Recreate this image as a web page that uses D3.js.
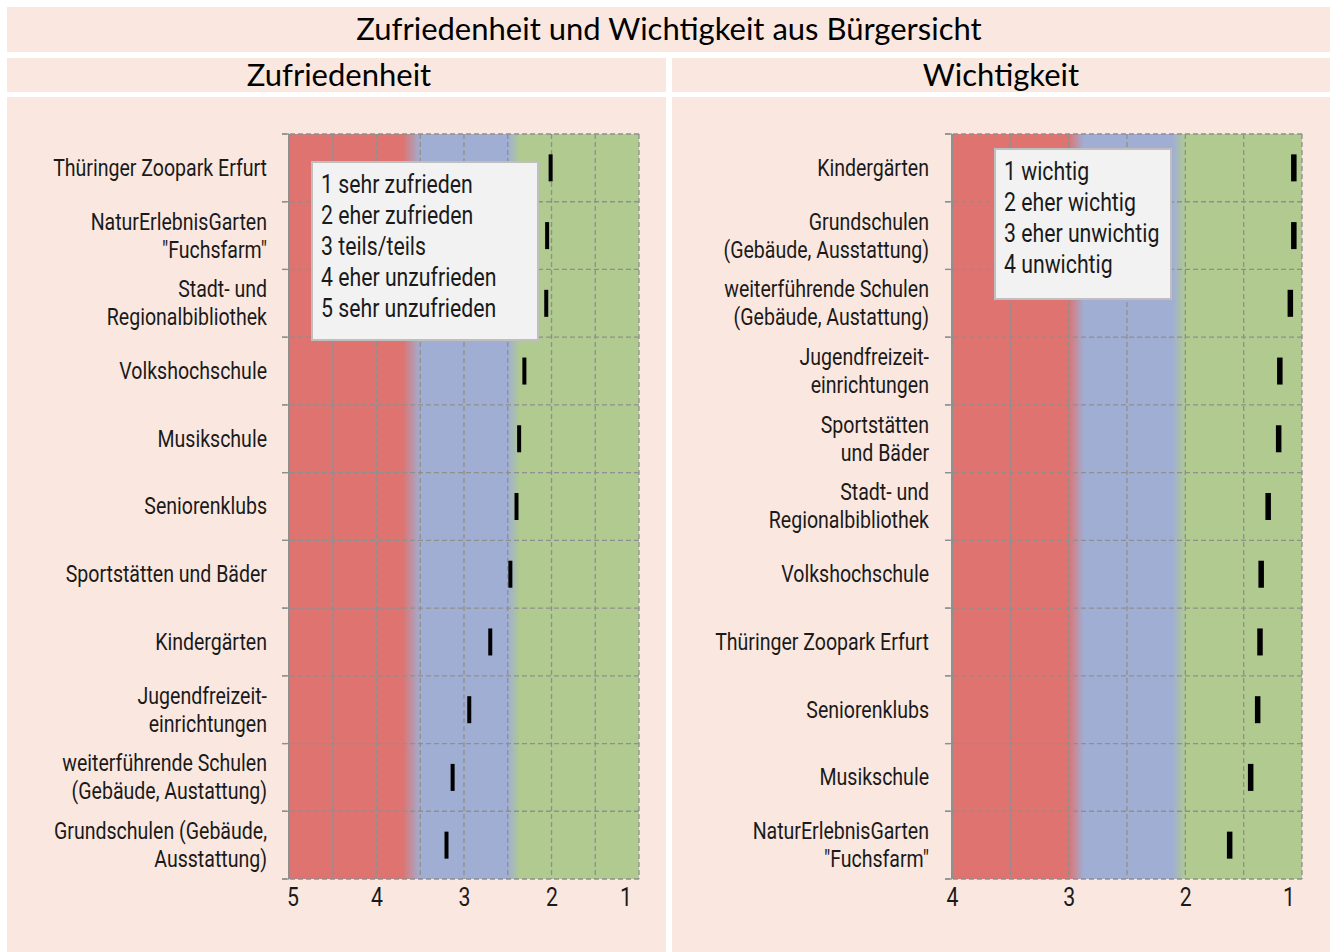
<!DOCTYPE html>
<html>
<head>
<meta charset="utf-8">
<script src="https://cdn.jsdelivr.net/npm/d3@7"></script>
<style>
  html, body { margin: 0; padding: 0; background: #ffffff; }
  svg { display: block; }
  .lbl { font-family: "Roboto", "Noto Sans", "DejaVu Sans", sans-serif; fill: #1a1a1a; }
  .ttl { font-family: "Lato", "Open Sans", sans-serif; fill: #000; }
</style>
</head>
<body>
<svg id="chart" width="1336" height="952"></svg>
<script>
// ---------------- data ----------------
const mainTitle = "Zufriedenheit und Wichtigkeit aus Bürgersicht";
const leftTitle = "Zufriedenheit";
const rightTitle = "Wichtigkeit";

const leftCategories = [
  "Thüringer Zoopark Erfurt",
  "NaturErlebnisGarten\n\"Fuchsfarm\"",
  "Stadt- und\nRegionalbibliothek",
  "Volkshochschule",
  "Musikschule",
  "Seniorenklubs",
  "Sportstätten und Bäder",
  "Kindergärten",
  "Jugendfreizeit-\neinrichtungen",
  "weiterführende Schulen\n(Gebäude, Austattung)",
  "Grundschulen (Gebäude,\nAusstattung)"
];
const leftValues = [2.01, 2.05, 2.06, 2.31, 2.37, 2.40, 2.47, 2.70, 2.94, 3.13, 3.20];
const leftTicks = [5, 4, 3, 2, 1];
const leftLegend = ["1 sehr zufrieden", "2 eher zufrieden", "3 teils/teils", "4 eher unzufrieden", "5 sehr unzufrieden"];
// colour zones: [value where red ends, blue starts, blue ends, green starts]
const leftZones = [3.70, 3.50, 2.50, 2.36];

const rightCategories = [
  "Kindergärten",
  "Grundschulen\n(Gebäude, Ausstattung)",
  "weiterführende Schulen\n(Gebäude, Austattung)",
  "Jugendfreizeit-\neinrichtungen",
  "Sportstätten\nund Bäder",
  "Stadt- und\nRegionalbibliothek",
  "Volkshochschule",
  "Thüringer Zoopark Erfurt",
  "Seniorenklubs",
  "Musikschule",
  "NaturErlebnisGarten\n\"Fuchsfarm\""
];
const rightValues = [1.07, 1.07, 1.10, 1.19, 1.20, 1.29, 1.35, 1.36, 1.38, 1.44, 1.62];
const rightTicks = [4, 3, 2, 1];
const rightLegend = ["1 wichtig", "2 eher wichtig", "3 eher unwichtig", "4 unwichtig"];
const rightZones = [3.00, 2.87, 2.11, 2.00];

// ---------------- styles ----------------
const C = {
  panel: "#FAE8E0",
  red: "#DE736F",
  blue: "#A0AED4",
  green: "#B0CA90",
  grid: "#8F8F8F",
  legendFill: "#F2F2F2",
  legendStroke: "#BFBFBF"
};
const LABEL_SIZE = 23;

const svg = d3.select("#chart");
const defs = svg.append("defs");

// measure a reference string to derive a horizontal condensation factor
const probe = svg.append("text").attr("class", "lbl").attr("font-size", LABEL_SIZE)
  .text("Thüringer Zoopark Erfurt");
const probeW = probe.node().getComputedTextLength();
probe.remove();
const SX = Math.min(1, 214 / probeW);

// Background bands
svg.append("rect").attr("x", 7).attr("y", 7).attr("width", 1323).attr("height", 45).attr("fill", C.panel);
svg.append("rect").attr("x", 7).attr("y", 58).attr("width", 659).attr("height", 34).attr("fill", C.panel);
svg.append("rect").attr("x", 672).attr("y", 58).attr("width", 658).attr("height", 34).attr("fill", C.panel);
svg.append("rect").attr("x", 7).attr("y", 97).attr("width", 659).attr("height", 860).attr("fill", C.panel);
svg.append("rect").attr("x", 672).attr("y", 97).attr("width", 658).attr("height", 860).attr("fill", C.panel);

svg.append("text").attr("class", "ttl").attr("x", 669).attr("y", 40)
  .attr("text-anchor", "middle").attr("font-size", 31).text(mainTitle);
svg.append("text").attr("class", "ttl").attr("x", 339).attr("y", 86)
  .attr("text-anchor", "middle").attr("font-size", 31).text(leftTitle);
svg.append("text").attr("class", "ttl").attr("x", 1001).attr("y", 86)
  .attr("text-anchor", "middle").attr("font-size", 31).text(rightTitle);

// condensed text group anchored at x
function condensed(parent, x) {
  return parent.append("g").attr("transform", `translate(${x},0) scale(${SX},1)`);
}

function drawPanel(opt) {
  const { id, categories, values, ticks, legend, zones, x0, x1, y0, y1,
          labelX, markerW, legendBox, legendY0 } = opt;
  const x = d3.scaleLinear().domain([ticks[0], ticks[ticks.length - 1]]).range([x0, x1]);
  const y = d3.scaleBand().domain(categories).range([y0, y1]).padding(0);
  const g = svg.append("g");

  // gradient background
  const grad = defs.append("linearGradient").attr("id", "grad" + id)
    .attr("gradientUnits", "userSpaceOnUse")
    .attr("x1", x0).attr("x2", x1).attr("y1", 0).attr("y2", 0);
  const off = v => (x(v) - x0) / (x1 - x0);
  [[0, C.red], [off(zones[0]), C.red], [off(zones[1]), C.blue],
   [off(zones[2]), C.blue], [off(zones[3]), C.green], [1, C.green]]
    .forEach(([o, c]) => grad.append("stop").attr("offset", o).attr("stop-color", c));
  g.append("rect").attr("x", x0).attr("y", y0).attr("width", x1 - x0).attr("height", y1 - y0)
    .attr("fill", `url(#grad${id})`);

  // vertical gridlines every 0.5
  const vgrid = x.ticks((ticks.length - 1) * 2);
  g.selectAll(".vg").data(vgrid.filter(v => v !== ticks[0])).enter().append("line")
    .attr("x1", d => x(d)).attr("x2", d => x(d)).attr("y1", y0).attr("y2", y1)
    .attr("stroke", C.grid).attr("stroke-width", 1.3).attr("stroke-dasharray", "5,3");

  // horizontal gridlines (band boundaries) with tick stubs
  const hs = categories.map(c => y(c)).concat([y1]);
  g.selectAll(".hg").data(hs).enter().append("line")
    .attr("x1", x0 - 7).attr("x2", x1).attr("y1", d => d).attr("y2", d => d)
    .attr("stroke", C.grid).attr("stroke-width", 1.3).attr("stroke-dasharray", "5,3");
  g.selectAll(".ht").data(hs).enter().append("line")
    .attr("x1", x0 - 7).attr("x2", x0).attr("y1", d => d).attr("y2", d => d)
    .attr("stroke", C.grid).attr("stroke-width", 1.3);

  // y axis line
  g.append("line").attr("x1", x0).attr("x2", x0).attr("y1", y0).attr("y2", y1)
    .attr("stroke", C.grid).attr("stroke-width", 2);

  // markers
  g.selectAll(".mk").data(categories).enter().append("rect")
    .attr("x", (d, i) => x(values[i]) - markerW / 2)
    .attr("y", d => y(d) + y.bandwidth() / 2 - 13.5)
    .attr("width", markerW).attr("height", 27)
    .attr("fill", "#000");

  // category labels
  categories.forEach(c => {
    const lines = c.split("\n");
    const cy = y(c) + y.bandwidth() / 2;
    const t = condensed(g, labelX).append("text").attr("class", "lbl")
      .attr("text-anchor", "end").attr("font-size", LABEL_SIZE);
    lines.forEach((ln, i) => {
      t.append("tspan").attr("x", 0)
        .attr("y", cy + 8 + (i - (lines.length - 1) / 2) * 28).text(ln);
    });
  });

  // x axis tick labels
  const axis = d3.axisBottom(x).tickValues(ticks).tickSize(0).tickPadding(0).tickFormat(d3.format("d"));
  const ax = g.append("g").attr("transform", `translate(0,${y1})`).call(axis);
  ax.select(".domain").remove();
  ax.selectAll("text").attr("class", "lbl").attr("font-size", 25).attr("dy", null)
    .attr("y", 27).attr("fill", "#1a1a1a")
    .attr("transform", function () { return `scale(${SX},1)`; });
  ax.selectAll(".tick").each(function () {
    // keep glyph centred on tick despite condensation
    d3.select(this).select("text").attr("transform", `scale(${SX},1)`);
  });
  ax.selectAll("text").filter(d => d === ticks[ticks.length - 1])
    .attr("text-anchor", "end").attr("dx", -9);
  ax.selectAll("text").filter(d => d === ticks[0] && id === "L")
    .attr("text-anchor", "start").attr("dx", -3);

  // legend box
  g.append("rect").attr("x", legendBox[0]).attr("y", legendBox[1])
    .attr("width", legendBox[2]).attr("height", legendBox[3])
    .attr("fill", C.legendFill).attr("stroke", C.legendStroke).attr("stroke-width", 2);
  const lg = condensed(g, legendBox[0] + 9);
  legend.forEach((s, i) => {
    lg.append("text").attr("class", "lbl").attr("x", 0)
      .attr("y", legendY0 + i * 31).attr("font-size", 25).text(s);
  });
}

drawPanel({
  id: "L", categories: leftCategories, values: leftValues, ticks: leftTicks,
  legend: leftLegend, zones: leftZones,
  x0: 289, x1: 639, y0: 134, y1: 879, labelX: 267, markerW: 4,
  legendBox: [312, 162, 226, 178], legendY0: 193
});
drawPanel({
  id: "R", categories: rightCategories, values: rightValues, ticks: rightTicks,
  legend: rightLegend, zones: rightZones,
  x0: 952, x1: 1302, y0: 134, y1: 879, labelX: 929, markerW: 5.5,
  legendBox: [995, 149, 176, 150], legendY0: 180
});
</script>
</body>
</html>
